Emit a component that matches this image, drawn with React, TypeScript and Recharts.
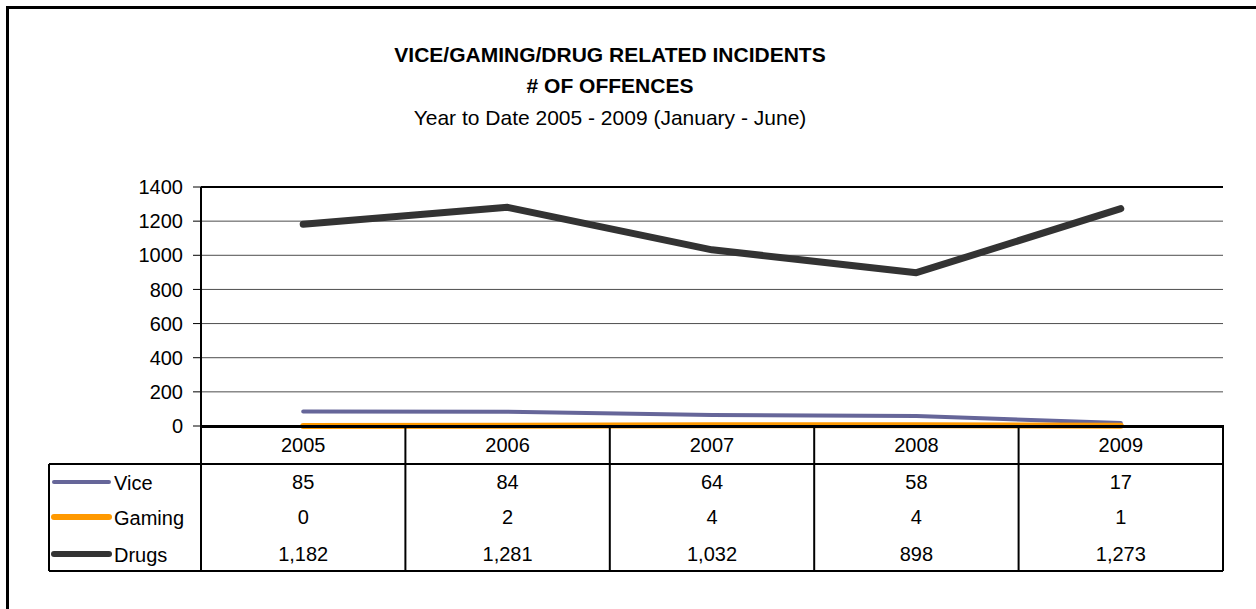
import React from 'react';
import { LineChart, Line, XAxis, YAxis, CartesianGrid, ReferenceLine } from 'recharts';

const years = ['2005', '2006', '2007', '2008', '2009'];
const vice = [85, 84, 64, 58, 17];
const gaming = [0, 2, 4, 4, 1];
const drugs = [1182, 1281, 1032, 898, 1273];
const yTicks = [0, 200, 400, 600, 800, 1000, 1200, 1400];
const seriesNames = ['Vice', 'Gaming', 'Drugs'];
const seriesColors = ['#666699', '#FF9900', '#333333'];
const seriesWidths = [4, 6, 7];
const legendWidths = [4, 6, 6];
const seriesValues = [vice, gaming, drugs];

const data = years.map((y, i) => ({ year: y, Vice: vice[i], Gaming: gaming[i], Drugs: drugs[i] }));

const FONT = '"Liberation Sans", Arial, sans-serif';
const fmt = (n: number) => n.toLocaleString('en-US');

const W = 1256;
const H = 609;
const PLOT_LEFT = 201;
const PLOT_RIGHT = 1223;
const PLOT_TOP = 187;
const PLOT_BOTTOM = 426;
const Y_AXIS_W = 60;
const HEADER_H = 38;
const HEADER_BOTTOM = PLOT_BOTTOM + HEADER_H;
const ROW_Y = [482, 517, 554];
const TABLE_BOTTOM = 571;
const LEGEND_LEFT = 49;
const COL_W = (PLOT_RIGHT - PLOT_LEFT) / years.length;

const TableTick = (props: any) => {
  const { x, payload, index } = props;
  const left = x - COL_W / 2;
  const right = x + COL_W / 2;
  return (
    <g>
      <line x1={left} x2={left} y1={PLOT_BOTTOM} y2={TABLE_BOTTOM} stroke="#000" strokeWidth={2} />
      {index === years.length - 1 && (
        <line x1={right} x2={right} y1={PLOT_BOTTOM} y2={TABLE_BOTTOM} stroke="#000" strokeWidth={2} />
      )}
      <text x={x} y={PLOT_BOTTOM + HEADER_H / 2} textAnchor="middle" dominantBaseline="central" fontSize={20} fontFamily={FONT} fill="#000">
        {payload.value}
      </text>
      {seriesValues.map((vals, r) => (
        <text key={r} x={x} y={ROW_Y[r]} textAnchor="middle" dominantBaseline="central" fontSize={20} fontFamily={FONT} fill="#000">
          {fmt(vals[index])}
        </text>
      ))}
    </g>
  );
};

export default function App() {
  return (
    <div style={{ position: 'absolute', left: 0, top: 0, width: W, height: H, overflow: 'hidden', background: '#fff' }}>
      <div style={{ position: 'absolute', left: 0, top: 0 }}>
        <LineChart
          width={W}
          height={H}
          data={data}
          margin={{ top: PLOT_TOP, right: W - PLOT_RIGHT, left: PLOT_LEFT - Y_AXIS_W, bottom: H - PLOT_BOTTOM - HEADER_H }}
        >
          <CartesianGrid vertical={false} horizontalValues={[200, 400, 600, 800, 1000, 1200]} stroke="#4d4d4d" strokeWidth={1} />
          <XAxis
            dataKey="year"
            scale="band"
            height={HEADER_H}
            interval={0}
            tickLine={false}
            axisLine={false}
            tick={<TableTick />}
          />
          <YAxis
            width={Y_AXIS_W}
            domain={[0, 1400]}
            ticks={yTicks}
            interval={0}
            tickSize={8}
            tickMargin={10}
            axisLine={{ stroke: '#000', strokeWidth: 2 }}
            tickLine={{ stroke: '#000', strokeWidth: 1 }}
            tick={{ fontSize: 20, fill: '#000', fontFamily: FONT }}
          />
          <YAxis
            yAxisId="right"
            orientation="right"
            width={0}
            domain={[0, 1400]}
            tick={false}
            tickLine={false}
            axisLine={{ stroke: '#000', strokeWidth: 2 }}
          />
          <ReferenceLine y={1400} stroke="#000" strokeWidth={2} />
          {seriesNames.map((name, i) => (
            <Line
              key={name}
              dataKey={name}
              type="linear"
              stroke={seriesColors[i]}
              strokeWidth={seriesWidths[i]}
              strokeLinecap="round"
              strokeLinejoin="round"
              dot={false}
              activeDot={false}
              isAnimationActive={false}
            />
          ))}
        </LineChart>
      </div>
      <svg width={W} height={H} style={{ position: 'absolute', left: 0, top: 0, pointerEvents: 'none' }}>
        <line x1={PLOT_LEFT - 1} x2={PLOT_RIGHT + 1} y1={PLOT_BOTTOM + 0.5} y2={PLOT_BOTTOM + 0.5} stroke="#000" strokeWidth={3} />
        <line x1={7.5} x2={7.5} y1={6} y2={H + 10} stroke="#000" strokeWidth={3} />
        <line x1={6} x2={W + 10} y1={7.5} y2={7.5} stroke="#000" strokeWidth={3} />
        <text x={610} y={62} textAnchor="middle" fontSize={21} fontWeight="bold" fontFamily={FONT} fill="#000">
          VICE/GAMING/DRUG RELATED INCIDENTS
        </text>
        <text x={610} y={93} textAnchor="middle" fontSize={21} fontWeight="bold" fontFamily={FONT} fill="#000">
          # OF OFFENCES
        </text>
        <text x={610} y={125} textAnchor="middle" fontSize={21} fontFamily={FONT} fill="#000">
          Year to Date 2005 - 2009 (January - June)
        </text>
        <line x1={LEGEND_LEFT} x2={PLOT_RIGHT} y1={HEADER_BOTTOM} y2={HEADER_BOTTOM} stroke="#000" strokeWidth={2} />
        <line x1={LEGEND_LEFT} x2={PLOT_RIGHT} y1={TABLE_BOTTOM} y2={TABLE_BOTTOM} stroke="#000" strokeWidth={2} />
        <line x1={LEGEND_LEFT} x2={LEGEND_LEFT} y1={HEADER_BOTTOM} y2={TABLE_BOTTOM} stroke="#000" strokeWidth={2} />
        {seriesNames.map((name, i) => (
          <g key={name}>
            <line x1={54} x2={109} y1={ROW_Y[i]} y2={ROW_Y[i]} stroke={seriesColors[i]} strokeWidth={legendWidths[i]} strokeLinecap="round" />
            <text x={114} y={ROW_Y[i] + 1} dominantBaseline="central" fontSize={20} fontFamily={FONT} fill="#000">
              {name}
            </text>
          </g>
        ))}
      </svg>
    </div>
  );
}
